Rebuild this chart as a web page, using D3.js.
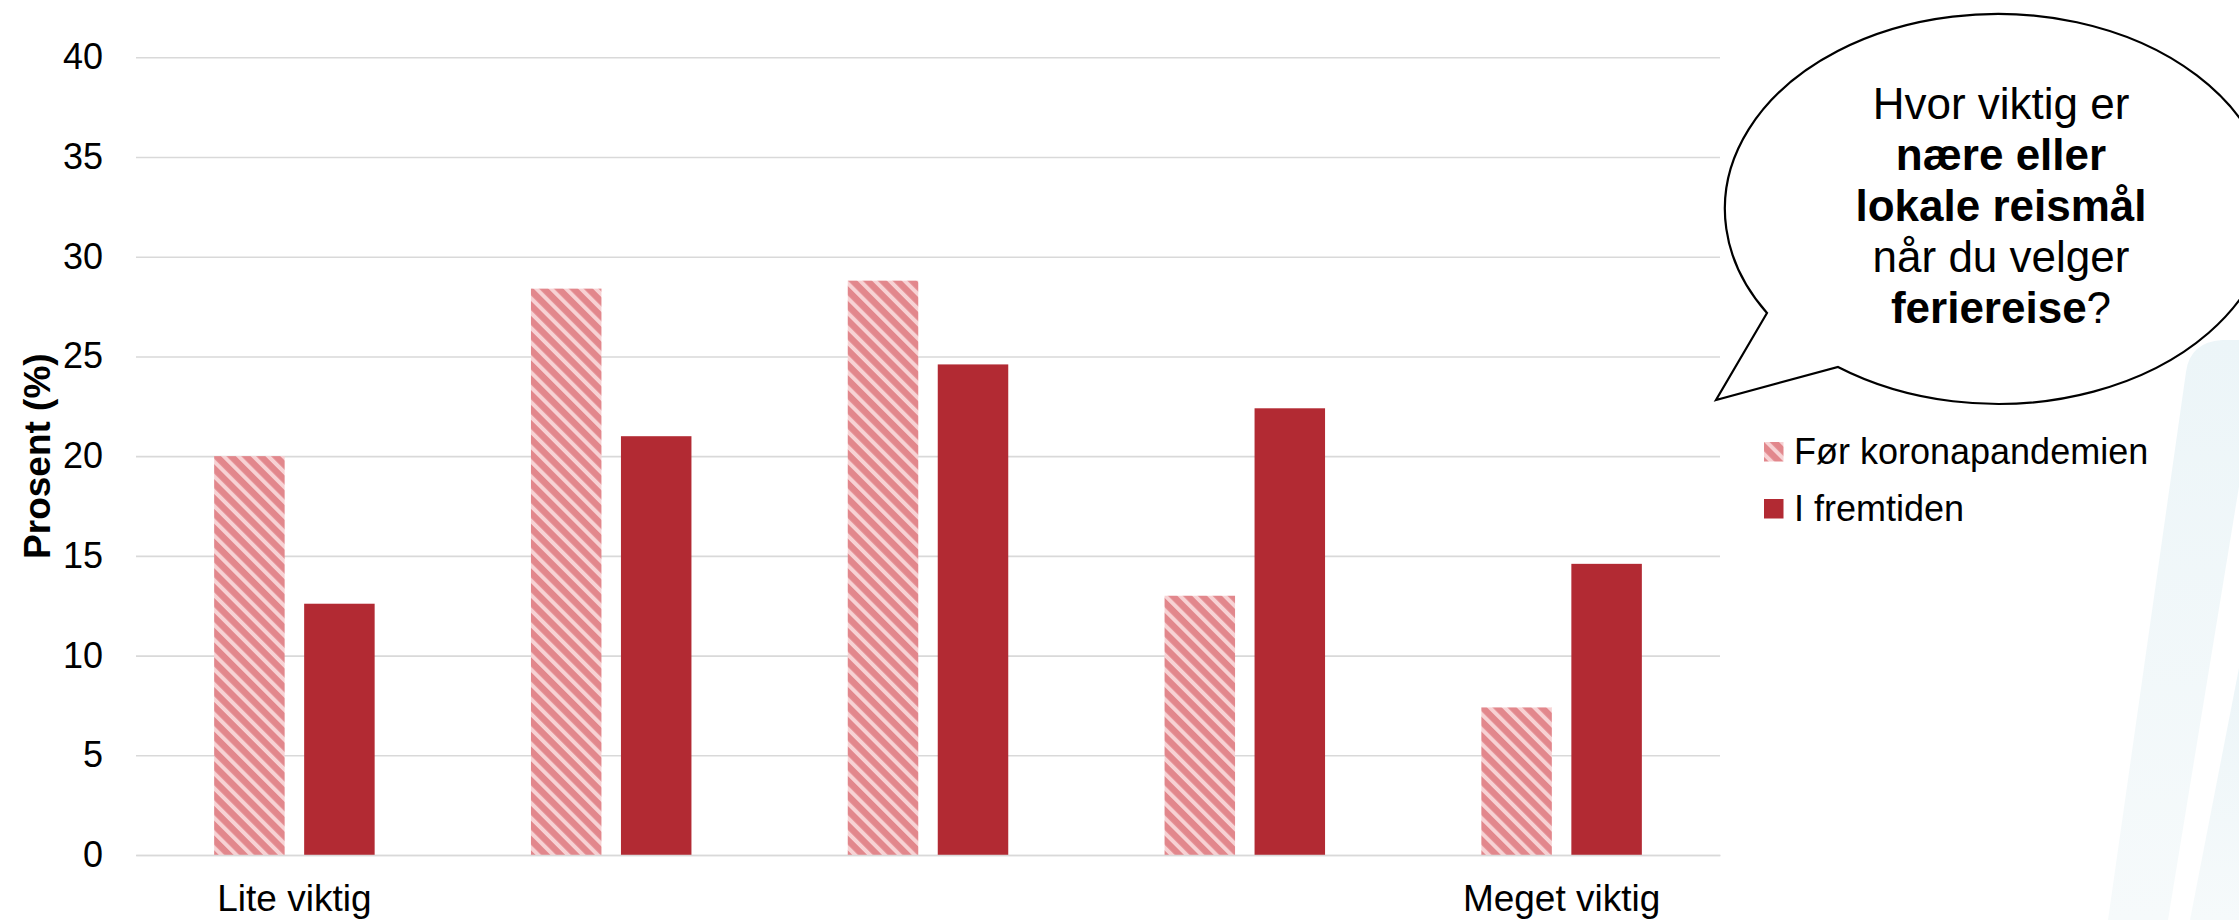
<!DOCTYPE html>
<html>
<head>
<meta charset="utf-8">
<script src="https://cdn.jsdelivr.net/npm/d3@7"></script>
<style>
  html, body { margin: 0; padding: 0; background: #ffffff; }
  svg { display: block; font-family: "Liberation Sans", Arial, sans-serif; }
</style>
</head>
<body>
<svg id="chart" width="2239" height="920"></svg>
<script>
// ---- data ----
const categories = ["k1", "k2", "k3", "k4", "k5"];
const categoryLabels = ["Lite viktig", "", "", "", "Meget viktig"];
const seriesNames = ["Før koronapandemien", "I fremtiden"];
const beforeValues = [20.0, 28.4, 28.8, 13.0, 7.4];
const futureValues = [12.6, 21.0, 24.6, 22.4, 14.6];
const yTicks = [0, 5, 10, 15, 20, 25, 30, 35, 40];
const yTitle = "Prosent (%)";

// ---- layout ----
const svg = d3.select("#chart");
const plot = { left: 136, right: 1720, top: 57.3, bottom: 855 };
const solidColor = "#b22a33";
const hatchDark = "#e2878c";
const hatchLight = "#f7d2d4";

const defs = svg.append("defs");
const pat = defs.append("pattern")
  .attr("id", "hatch")
  .attr("patternUnits", "userSpaceOnUse")
  .attr("width", 10.5).attr("height", 10.5)
  .attr("patternTransform", "rotate(-45)");
pat.append("rect").attr("width", 10.5).attr("height", 10.5).attr("fill", hatchDark);
pat.append("rect").attr("x", 0).attr("width", 4).attr("height", 10.5).attr("fill", hatchLight);

const bgGrad = defs.append("linearGradient").attr("id", "bgband")
  .attr("x1", 0).attr("y1", 0).attr("x2", 0).attr("y2", 1);
bgGrad.append("stop").attr("offset", 0).attr("stop-color", "#ecf5f8");
bgGrad.append("stop").attr("offset", 1).attr("stop-color", "#f6fafb");

// faint decorative background bands (right side)
svg.append("path")
  .attr("d", "M2186,372 Q2190,342 2222,340 L2239,340 L2239,344 L2262,346 L2168,920 L2108,920 Z")
  .attr("fill", "url(#bgband)");
svg.append("path")
  .attr("d", "M2239,668 L2239,920 L2190,920 Z")
  .attr("fill", "url(#bgband)");

// ---- scales ----
const x0 = d3.scaleBand().domain(categories).range([plot.left, plot.right]).padding(0);
const x1 = d3.scaleBand().domain([0, 1])
  .range([x0.bandwidth() / 2 - 80.25, x0.bandwidth() / 2 + 80.25])
  .paddingInner(0.2167).paddingOuter(0);
const y = d3.scaleLinear().domain([0, 40]).range([plot.bottom, plot.top]);

// ---- y axis with gridlines ----
const yAxis = svg.append("g")
  .attr("transform", `translate(${plot.left},0)`)
  .call(d3.axisLeft(y).tickValues(yTicks)
    .tickSizeInner(-(plot.right - plot.left)).tickSizeOuter(0).tickPadding(33));
yAxis.select(".domain").remove();
yAxis.selectAll(".tick line").attr("stroke", "#d9d9d9").attr("stroke-width", 1.6);
yAxis.selectAll(".tick text")
  .attr("font-size", 36).attr("fill", "#000")
  .attr("font-family", "'Liberation Sans', Arial, sans-serif");

// ---- bars ----
const groups = svg.append("g").selectAll("g")
  .data(categories).join("g")
  .attr("transform", d => `translate(${x0(d)},0)`);

groups.append("rect")
  .attr("x", x1(0)).attr("width", x1.bandwidth())
  .attr("y", (d, i) => y(beforeValues[i]))
  .attr("height", (d, i) => y(0) - y(beforeValues[i]))
  .attr("fill", "url(#hatch)");

groups.append("rect")
  .attr("x", x1(1)).attr("width", x1.bandwidth())
  .attr("y", (d, i) => y(futureValues[i]))
  .attr("height", (d, i) => y(0) - y(futureValues[i]))
  .attr("fill", solidColor);

// ---- x axis ----
const xAxis = svg.append("g")
  .attr("transform", `translate(0,${plot.bottom})`)
  .call(d3.axisBottom(x0).tickSize(0).tickPadding(30)
    .tickFormat((d, i) => categoryLabels[i]));
xAxis.select(".domain").attr("stroke", "#d9d9d9").attr("stroke-width", 1.6);
xAxis.selectAll(".tick text")
  .attr("font-size", 37).attr("fill", "#000")
  .attr("font-family", "'Liberation Sans', Arial, sans-serif");

// ---- y title ----
svg.append("text")
  .attr("transform", `translate(50,${(plot.top + plot.bottom) / 2}) rotate(-90)`)
  .attr("text-anchor", "middle")
  .attr("font-size", 37).attr("font-weight", "bold").attr("fill", "#000")
  .text(yTitle);

// ---- legend ----
const legendItems = [
  { name: seriesNames[0], fill: "url(#hatch)" },
  { name: seriesNames[1], fill: solidColor }
];
const legend = svg.append("g").attr("transform", "translate(1764,442)");
legend.selectAll("g").data(legendItems).join("g")
  .attr("transform", (d, i) => `translate(0,${i * 57})`)
  .each(function (d) {
    const g = d3.select(this);
    g.append("rect").attr("width", 19.5).attr("height", 19.5).attr("fill", d.fill);
    g.append("text").attr("x", 30).attr("y", 21.5)
      .attr("font-size", 36).attr("fill", "#000").text(d.name);
  });

// ---- speech bubble ----
const cx = 1996, cy = 207, rx = 273, ry = 195;
const bubblePath = `M1767,313 L1716,400 L1838,367 A${rx},${ry} 0 1 0 1767,313 Z`;
svg.append("path").attr("d", bubblePath)
  .attr("fill", "#ffffff").attr("stroke", "#000").attr("stroke-width", 2.2)
  .attr("stroke-linejoin", "miter");

const bubbleLines = [
  [["Hvor viktig er", false]],
  [["nære eller", true]],
  [["lokale reismål", true]],
  [["når du velger", false]],
  [["feriereise", true], ["?", false]]
];
const bt = svg.append("g");
bubbleLines.forEach((parts, i) => {
  const t = bt.append("text")
    .attr("x", 2001).attr("y", 119 + i * 51)
    .attr("text-anchor", "middle")
    .attr("font-size", 44).attr("fill", "#000");
  parts.forEach(([s, b]) => {
    t.append("tspan").attr("font-weight", b ? "bold" : "normal").text(s);
  });
});
</script>
</body>
</html>
